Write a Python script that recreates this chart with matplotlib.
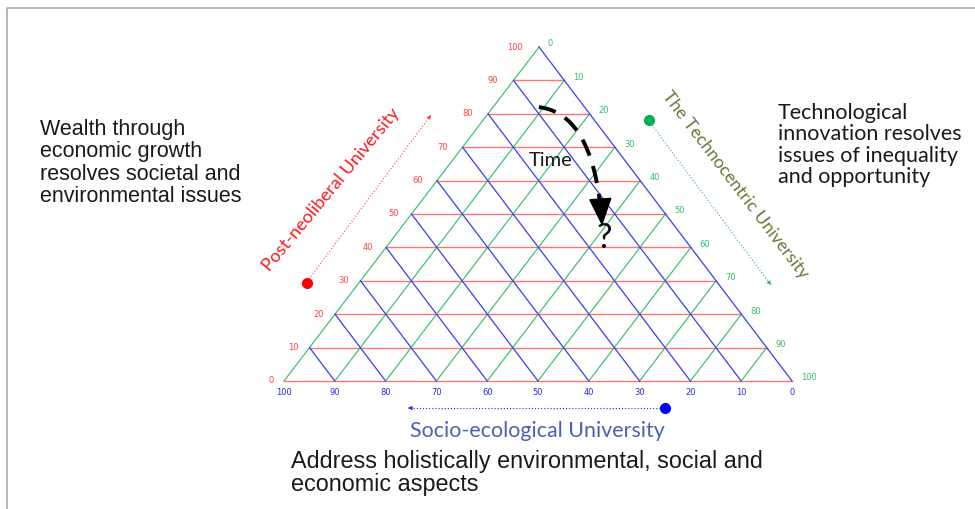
import numpy as np
import matplotlib.pyplot as plt
from matplotlib.patches import Polygon

# ternary grid values
ticks = np.arange(0, 101, 10)
tick_labels = [str(t) for t in ticks]

# time arrow as (red, green, blue) compositions: start, bend, end
time_start = (82, 9, 9)
time_bend = (80, 21, -1)
time_end = (47, 39, 14)

left_text = "Wealth through\neconomic growth\nresolves societal and\nenvironmental issues"
right_text = "Technological\ninnovation resolves\nissues of inequality\nand opportunity"
bottom_text = "Address holistically environmental, social and\neconomic aspects"

# triangle corners in pixel space
TOP = np.array([539.0, 48.0])
BR = np.array([792.0, 382.0])
BL = np.array([284.0, 382.0])


def tern(r, g, b):
    return (r * TOP + g * BR + b * BL) / 100.0


c_red = '#ff7373'
c_green = '#3ec27a'
c_blue = '#3b3bf2'

fig = plt.figure(figsize=(9.75, 5.1), dpi=100)
ax = fig.add_axes([0, 0, 1, 1])
ax.set_xlim(0, 975)
ax.set_ylim(510, 0)
ax.axis('off')

# slide frame
ax.plot([7, 7, 975], [510, 9, 9], color='#a9abb3', lw=1.2)

# grid lines
for t in ticks:
    p1, p2 = tern(t, 0, 100 - t), tern(t, 100 - t, 0)
    ax.plot([p1[0], p2[0]], [p1[1], p2[1]], color=c_red, lw=1.0, zorder=2)
for t in ticks:
    p1, p2 = tern(0, t, 100 - t), tern(100 - t, t, 0)
    ax.plot([p1[0], p2[0]], [p1[1], p2[1]], color=c_green, lw=0.9, zorder=3)
for t in ticks:
    p1, p2 = tern(0, 100 - t, t), tern(100 - t, 0, t)
    ax.plot([p1[0], p2[0]], [p1[1], p2[1]], color=c_blue, lw=0.9, zorder=4)

# tick labels
for t, lab in zip(ticks, tick_labels):
    p = tern(t, 0, 100 - t)
    ax.text(p[0] - 10 - 0.06 * t, p[1] - 1, lab, color='#ff4040', fontsize=6,
            ha='right', va='center')
    p = tern(100 - t, t, 0)
    ax.text(p[0] + 9, p[1] - 4, lab, color='#2fbf6f', fontsize=6,
            ha='left', va='center')
    p = tern(0, 100 - t, t)
    ax.text(p[0], p[1] + 11, lab, color='#2a2ae8', fontsize=6,
            ha='center', va='center')

# time arrow (quadratic bezier)
P0, P1, P2 = tern(*time_start), tern(*time_bend), tern(*time_end)
s = np.linspace(0, 1, 200)
curve = ((1 - s)[:, None] ** 2) * P0 + (2 * (1 - s) * s)[:, None] * P1 + (s[:, None] ** 2) * P2
tang = 2 * (P2 - P1)
tang = tang / np.hypot(*tang)
head_len, head_w = 25, 10.5
base = P2 - tang * head_len
normal = np.array([-tang[1], tang[0]])
keep = np.hypot(curve[:, 0] - P2[0], curve[:, 1] - P2[1]) > head_len - 2
ax.plot(curve[keep, 0], curve[keep, 1], color='black', lw=2.8,
        linestyle=(0, (4.5, 2.8)), solid_capstyle='butt', zorder=6)
ax.add_patch(Polygon([base + normal * head_w, P2, base - normal * head_w],
                     closed=True, color='black', zorder=6))
ax.text(604, 238, '?', fontsize=25, family='Lato', ha='center', va='center',
        color='#111111', zorder=7)
ax.text(551, 161, 'Time', fontsize=14.5, family='Lato', ha='center', va='center',
        color='#1a1a1a', zorder=7)

# corner markers and dotted direction lines
def dotted_arrow(start, end, color):
    ax.plot([start[0], end[0]], [start[1], end[1]], color=color, lw=0.8,
            linestyle=(0, (1, 1.8)))
    d = np.array(end) - np.array(start)
    d = d / np.hypot(*d)
    ax.annotate('', xy=end, xytext=np.array(end) - d * 4,
                arrowprops=dict(arrowstyle='-|>', color=color, lw=0.5,
                                mutation_scale=6))

ax.plot(307, 284, 'o', color='#ff0000', markersize=7)
dotted_arrow((309, 280), (431, 116), '#ff4040')
ax.plot(649, 121, 'o', color='#00b050', markersize=7)
dotted_arrow((652, 126), (771, 286), '#2fb36a')
ax.plot(665, 409, 'o', color='#0000ff', markersize=7)
dotted_arrow((660, 409), (408, 409), '#2020ff')

ax.text(331, 190, 'Post-neoliberal University', rotation=50.5, rotation_mode='anchor',
        fontsize=13, family='Lato', color='#ff1a1a', ha='center', va='center')
ax.text(735, 185, 'The Technocentric University', rotation=-52.7, rotation_mode='anchor',
        fontsize=12.8, family='Lato', color='#667a3a', ha='center', va='center')
ax.text(537, 431, 'Socio-ecological University', fontsize=15.4, family='Lato',
        color='#4a62b0', ha='center', va='center')

# side notes
ax.text(40, 119, left_text, fontsize=15.5, family='Liberation Sans', color='#1a1a1a',
        ha='left', va='top', linespacing=1.08)
ax.text(778, 103, right_text, fontsize=15.5, family='Lato', color='#1a1a1a',
        ha='left', va='top', linespacing=1.08)
ax.text(291, 450, bottom_text, fontsize=16.8, family='Liberation Sans', color='#1a1a1a',
        ha='left', va='top', linespacing=1.0)

fig.savefig('out.png', dpi=100)
